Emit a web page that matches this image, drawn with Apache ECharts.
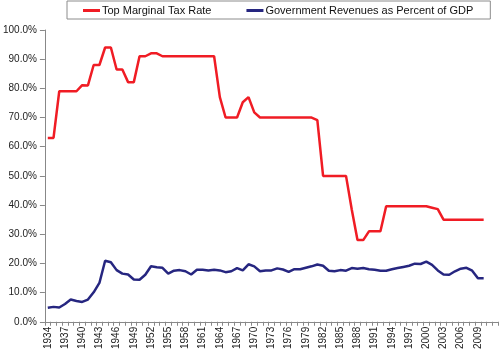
<!DOCTYPE html>
<html><head><meta charset="utf-8">
<script src="https://cdn.jsdelivr.net/npm/echarts@6/dist/echarts.min.js"></script>
<style>html,body{margin:0;padding:0;background:#fff}#c{width:500px;height:352px}</style>
</head><body><div id="c"></div>
<script>
const years = [];
for (let y = 1934; y <= 2012; y++) years.push(String(y));
const topMarginalTaxRate = [
  63, 63, 79, 79, 79, 79, 81.1, 81, 88, 88,
  94, 94, 86.45, 86.45, 82.13, 82.13, 91, 91, 92, 92,
  91, 91, 91, 91, 91, 91, 91, 91, 91, 91,
  77, 70, 70, 70, 75.25, 77, 71.75, 70, 70, 70,
  70, 70, 70, 70, 70, 70, 70, 69.13, 50, 50,
  50, 50, 50, 38.5, 28, 28, 31, 31, 31, 39.6,
  39.6, 39.6, 39.6, 39.6, 39.6, 39.6, 39.6, 39.1, 38.6, 35,
  35, 35, 35, 35, 35, 35, 35
];
const revenuesPctGDP = [
  4.8, 5.1, 4.9, 6.1, 7.6, 7.1, 6.8, 7.6, 10.1, 13.3,
  20.9, 20.4, 17.7, 16.5, 16.2, 14.5, 14.4, 16.1, 19.0, 18.7,
  18.5, 16.5, 17.5, 17.7, 17.3, 16.2, 17.8, 17.8, 17.6, 17.8,
  17.6, 17.0, 17.3, 18.4, 17.6, 19.7, 19.0, 17.3, 17.6, 17.6,
  18.3, 17.9, 17.1, 18.0, 18.0, 18.5, 19.0, 19.6, 19.2, 17.5,
  17.3, 17.7, 17.5, 18.4, 18.2, 18.4, 18.0, 17.8, 17.5, 17.5,
  18.0, 18.4, 18.8, 19.2, 19.9, 19.8, 20.6, 19.5, 17.6, 16.2,
  16.1, 17.3, 18.2, 18.5, 17.5, 14.9, 14.9
];
const yTicks = [0, 10, 20, 30, 40, 50, 60, 70, 80, 90, 100];
const lastLabelledYear = '2009';

const chart = echarts.init(document.getElementById('c'), null, {renderer: 'canvas'});
const font = 'Liberation Sans, Arial, sans-serif';
chart.setOption({
  animation: false,
  backgroundColor: '#fff',
  textStyle: {fontFamily: font},
  legend: {
    left: 67, top: 1,
    padding: [4, 17, 3, 16],
    borderColor: '#8c8c8c', borderWidth: 1,
    itemGap: 35, itemWidth: 17, itemHeight: 3,
    icon: 'rect',
    textStyle: {fontSize: 11, color: '#111', fontFamily: font, padding: [0, 0, 0, -3]},
    data: ['Top Marginal Tax Rate', 'Government Revenues as Percent of GDP']
  },
  grid: {left: 40, right: 2, top: 30, bottom: 28, containLabel: false},
  xAxis: {
    type: 'category', data: years, boundaryGap: true,
    axisLine: {lineStyle: {color: '#888', width: 1}},
    axisTick: {show: true, interval: 0, length: 4, lineStyle: {color: '#888'}},
    axisLabel: {
      interval: (i, v) => i % 3 === 0 && Number(v) <= Number(lastLabelledYear),
      rotate: 90, fontSize: 10, color: '#222', margin: 5, fontFamily: font
    }
  },
  yAxis: {
    type: 'value', min: yTicks[0], max: yTicks[yTicks.length - 1], interval: 10,
    axisLine: {show: true, lineStyle: {color: '#888', width: 1}},
    axisTick: {show: true, length: 5, lineStyle: {color: '#888'}},
    splitLine: {show: false},
    axisLabel: {formatter: v => v.toFixed(1) + '%', fontSize: 10, color: '#222', margin: 8, fontFamily: font}
  },
  series: [
    {name: 'Top Marginal Tax Rate', type: 'line', data: topMarginalTaxRate,
     symbol: 'none', color: '#f01c24', lineStyle: {width: 2.5, color: '#f01c24'}},
    {name: 'Government Revenues as Percent of GDP', type: 'line', data: revenuesPctGDP,
     symbol: 'none', color: '#262680', lineStyle: {width: 2.5, color: '#262680'}}
  ]
});
</script></body></html>
